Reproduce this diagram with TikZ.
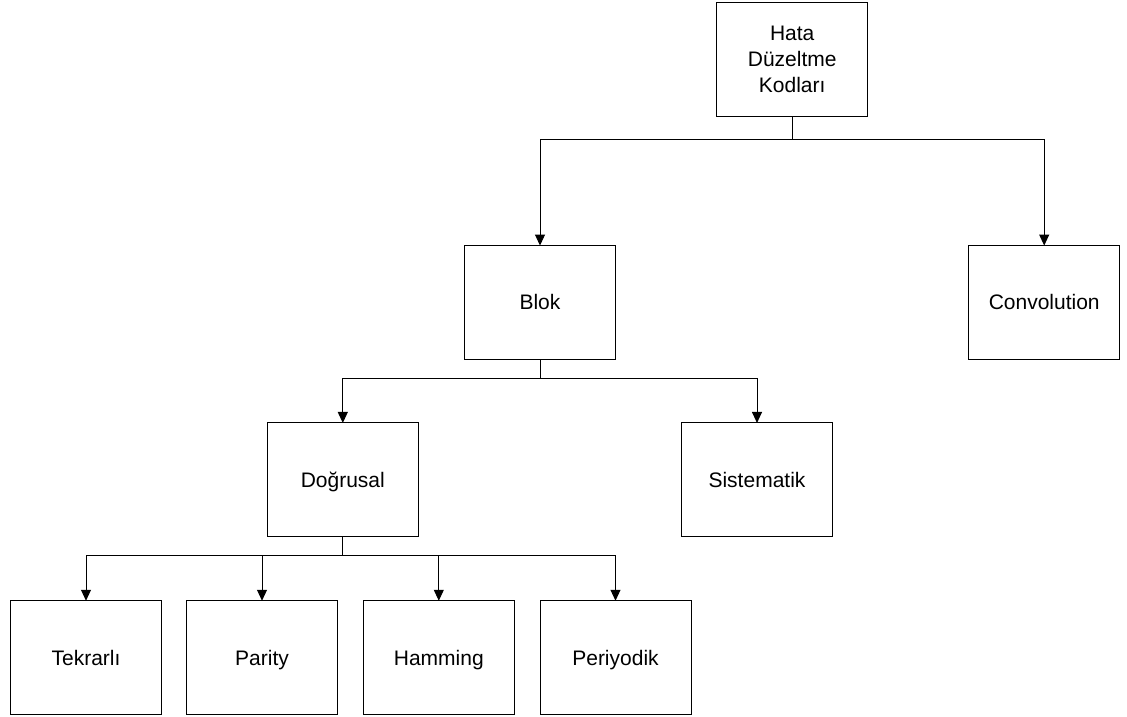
\documentclass[tikz,border=0pt]{standalone}
\usepackage{fontspec}
\setmainfont{Liberation Sans}
\usetikzlibrary{arrows.meta}
\begin{document}
\begin{tikzpicture}[x=1pt,y=-1pt,
  box/.style={draw, line width=1pt, minimum width=151pt, minimum height=113.5pt,
    inner sep=0pt, outer sep=0pt, align=center,
    font=\fontsize{21}{26.2}\selectfont},
  onebox/.style={box, text height=15pt, text depth=0pt},
  link/.style={line width=1pt},
  arr/.style={link, -{Triangle[length=11pt,width=10pt]}}]
  \useasboundingbox (0,0) rectangle (1127,717);

  % tree nodes
  \node[box]    (hata) at (792.2,59.5) {Hata\\Düzeltme\\Kodları};
  \node[onebox] (blok) at (540,302.3) {Blok};
  \node[onebox] (conv) at (1044.2,302.3) {Convolution};
  \node[onebox] (dog)  at (342.8,479.7) {Doğrusal};
  \node[onebox] (sis)  at (757,479.7) {Sistematik};
  \node[onebox] (tek)  at (86,657.5) {Tekrarlı};
  \node[onebox] (par)  at (262,657.5) {Parity};
  \node[onebox] (ham)  at (438.8,657.5) {Hamming};
  \node[onebox] (per)  at (615.5,657.5) {Periyodik};

  % branch junctions below each parent
  \draw[link] (hata.south) -- ++(0,23.7) coordinate (j1);
  \draw[arr] (j1) -| (blok.north);
  \draw[arr] (j1) -| (conv.north);

  \draw[link] (blok.south) -- ++(0,19) coordinate (j2);
  \draw[arr] (j2) -| (dog.north);
  \draw[arr] (j2) -| (sis.north);

  \draw[link] (dog.south) -- ++(0,19) coordinate (j3);
  \draw[arr] (j3) -| (tek.north);
  \draw[arr] (j3) -| (par.north);
  \draw[arr] (j3) -| (ham.north);
  \draw[arr] (j3) -| (per.north);
\end{tikzpicture}
\end{document}
